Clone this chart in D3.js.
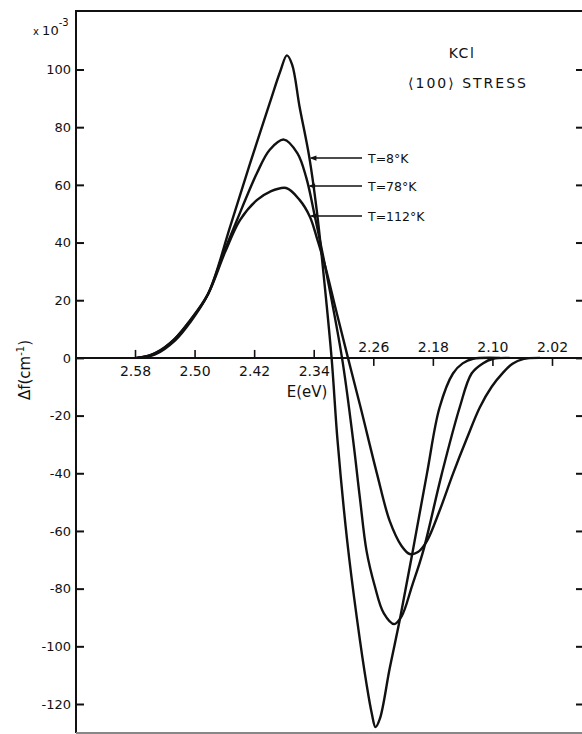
<!DOCTYPE html>
<html>
<head>
<meta charset="utf-8">
<script src="https://cdn.jsdelivr.net/npm/d3@7"></script>
<style>
  body { margin: 0; background: #fff; }
  text { font-family: "DejaVu Sans", sans-serif; fill: #111; }
</style>
</head>
<body>
<script>
/*** data ***/
const xTicks = [2.58, 2.50, 2.42, 2.34, 2.26, 2.18, 2.10, 2.02];
const yTicks = [-120, -100, -80, -60, -40, -20, 0, 20, 40, 60, 80, 100];

// T = 8 K
const e8 = [2.580, 2.560, 2.533, 2.506, 2.482, 2.452, 2.426, 2.399, 2.385, 2.376, 2.369, 2.359, 2.346, 2.336, 2.328, 2.316,
            2.308, 2.295, 2.282, 2.269, 2.262, 2.257, 2.251, 2.238, 2.224, 2.207, 2.188, 2.171, 2.153, 2.140, 2.126, 2.090];
const f8 = [0, 0.9, 5.0, 13.0, 22.1, 45.7, 67.0, 88.4, 99.3, 104.9, 101.7, 87.1, 69.7, 51.3, 32.2, 0,
            -28.7, -63.5, -90.3, -113.2, -123.3, -128.0, -125.0, -107.7, -90.3, -67.0, -40.2, -17.2, -5.4, -1.9, -0.3, 0];

// T = 78 K
const e78 = [2.577, 2.553, 2.526, 2.506, 2.482, 2.463, 2.443, 2.416, 2.399, 2.380, 2.362, 2.350, 2.338, 2.325, 2.302,
             2.287, 2.278, 2.269, 2.258, 2.246, 2.232, 2.222, 2.208, 2.193, 2.168, 2.144, 2.128, 2.113, 2.099, 2.077];
const f78 = [0, 1.2, 6.1, 12.3, 22.1, 35.0, 47.8, 64.2, 72.2, 75.7, 71.0, 62.5, 48.5, 32.2, 0,
             -28.7, -48.5, -67.0, -79.1, -88.5, -92.3, -89.6, -79.1, -67.0, -40.2, -17.2, -5.4, -1.9, -0.3, 0];

// T = 112 K
const e112 = [2.577, 2.553, 2.526, 2.506, 2.482, 2.459, 2.439, 2.416, 2.399, 2.377, 2.359, 2.345, 2.335, 2.325, 2.310, 2.294,
              2.277, 2.255, 2.238, 2.222, 2.211, 2.200, 2.188, 2.171, 2.153, 2.134, 2.117, 2.101, 2.086, 2.073, 2.059, 2.036];
const f112 = [0, 1.6, 6.8, 13.0, 22.1, 36.7, 47.8, 54.8, 57.6, 58.9, 54.8, 48.9, 40.9, 32.2, 16.5, 0,
              -17.2, -40.2, -56.5, -65.2, -68.0, -67.3, -63.5, -53.0, -40.2, -27.7, -17.2, -10.0, -5.2, -2.0, -0.4, 0];

const labelNames = ["T=8°K", "T=78°K", "T=112°K"];
const labelLevels = [69.3, 59.6, 49.2];

/*** layout ***/
const width = 582, height = 734;
const frame = {left: 76, top: 11, right: 583, bottom: 733};

const svg = d3.select("body").append("svg")
  .attr("width", width)
  .attr("height", height);

const x = d3.scaleLinear().domain([2.58, 2.02]).range([135, 552]);
const y = d3.scaleLinear().domain([100, -120]).range([69.5, 704]);

// frame lines
const frameG = svg.append("g").attr("stroke", "#111").attr("stroke-width", 2).attr("fill", "none");
frameG.append("line").attr("x1", frame.left).attr("x2", frame.left).attr("y1", frame.top - 1).attr("y2", frame.bottom);
frameG.append("line").attr("x1", frame.left).attr("x2", frame.right).attr("y1", frame.top).attr("y2", frame.top);
frameG.append("line").attr("x1", frame.left).attr("x2", frame.right).attr("y1", frame.bottom).attr("y2", frame.bottom)
  .attr("stroke", "#888");

// left axis, ticks pointing inward
const yAxis = svg.append("g")
  .attr("transform", `translate(${frame.left},0)`)
  .call(d3.axisLeft(y).tickValues(yTicks).tickSize(-8).tickPadding(5)
    .tickFormat(d => d < 0 ? "-" + Math.abs(d) : d));
yAxis.select(".domain").remove();
yAxis.selectAll("line").attr("stroke", "#111").attr("stroke-width", 2);
yAxis.selectAll("text").attr("font-size", 13).attr("fill", "#111");

// right axis, ticks only
const yAxisR = svg.append("g")
  .attr("transform", `translate(${frame.right},0)`)
  .call(d3.axisRight(y).tickValues(yTicks).tickSize(-7).tickFormat(""));
yAxisR.select(".domain").remove();
yAxisR.selectAll("line").attr("stroke", "#111").attr("stroke-width", 2);

// zero line
svg.append("line")
  .attr("x1", frame.left).attr("x2", frame.right)
  .attr("y1", y(0)).attr("y2", y(0))
  .attr("stroke", "#111").attr("stroke-width", 2);

// energy ticks: labels below on the left, above on the right
const fmt = d3.format(".2f");
const xLow = svg.append("g")
  .attr("transform", `translate(0,${y(0)})`)
  .call(d3.axisBottom(x).tickValues(xTicks.filter(d => d >= 2.34)).tickSize(-8).tickPadding(8).tickFormat(fmt));
const xHigh = svg.append("g")
  .attr("transform", `translate(0,${y(0)})`)
  .call(d3.axisTop(x).tickValues(xTicks.filter(d => d < 2.34)).tickSize(-8).tickPadding(6).tickFormat(fmt));
[xLow, xHigh].forEach(g => {
  g.select(".domain").remove();
  g.selectAll("line").attr("stroke", "#111").attr("stroke-width", 1.6);
  g.selectAll("text").attr("font-size", 14).attr("fill", "#111");
});

// axis titles
svg.append("text")
  .attr("x", 307).attr("y", 397)
  .attr("text-anchor", "middle")
  .attr("font-size", 15)
  .text("E(eV)");

const yTitle = svg.append("text")
  .attr("transform", "translate(30,370) rotate(-90)")
  .attr("text-anchor", "middle")
  .attr("font-size", 15);
yTitle.append("tspan").text("Δf(cm");
yTitle.append("tspan").attr("font-size", 10).attr("dy", -6).text("-1");
yTitle.append("tspan").attr("dy", 6).text(")");

const mult = svg.append("text").attr("x", 33).attr("y", 35);
mult.append("tspan").attr("font-size", 10).text("x ");
mult.append("tspan").attr("font-size", 13).text("10");
mult.append("tspan").attr("font-size", 10).attr("dy", -9).text("-3");

svg.append("text")
  .attr("x", 462).attr("y", 58)
  .attr("text-anchor", "middle")
  .attr("font-size", 14)
  .attr("letter-spacing", 1.5)
  .text("KCl");
svg.append("text")
  .attr("x", 468).attr("y", 88)
  .attr("text-anchor", "middle")
  .attr("font-size", 14)
  .attr("letter-spacing", 2)
  .text("⟨100⟩ STRESS");

/*** curves ***/
const series = [
  {e: e8, f: f8},
  {e: e78, f: f78},
  {e: e112, f: f112}
].map((s, i) => ({
  name: labelNames[i],
  level: labelLevels[i],
  points: s.e.map((e, j) => [e, s.f[j]])
}));

const line = d3.line()
  .x(d => x(d[0]))
  .y(d => y(d[1]))
  .curve(d3.curveCatmullRom.alpha(0.5));

svg.append("g")
  .selectAll("path")
  .data(series)
  .join("path")
  .attr("d", d => line(d.points))
  .attr("fill", "none")
  .attr("stroke", "#111")
  .attr("stroke-width", 2.4)
  .attr("stroke-linejoin", "round");

/*** labels with leader arrows ***/
function crossing(points, level) {
  // first downward crossing of the level after the peak
  const peak = d3.maxIndex(points, d => d[1]);
  for (let j = peak; j < points.length - 1; j++) {
    const [e0, v0] = points[j], [e1, v1] = points[j + 1];
    if (v0 >= level && v1 <= level) {
      const t = (v0 - level) / (v0 - v1);
      return e0 + t * (e1 - e0);
    }
  }
  return points[peak][0];
}

const lab = svg.append("g");
series.forEach(s => {
  const ex = x(crossing(s.points, s.level));
  const ly = y(s.level);
  lab.append("line")
    .attr("x1", ex + 2).attr("x2", 362)
    .attr("y1", ly).attr("y2", ly)
    .attr("stroke", "#111").attr("stroke-width", 1.5);
  lab.append("path")
    .attr("d", `M${ex},${ly} l7,-2.6 l0,5.2 z`)
    .attr("fill", "#111");
  lab.append("text")
    .attr("x", 368).attr("y", ly)
    .attr("dy", "0.36em")
    .attr("font-size", 12.5)
    .text(s.name);
});
</script>
</body>
</html>
